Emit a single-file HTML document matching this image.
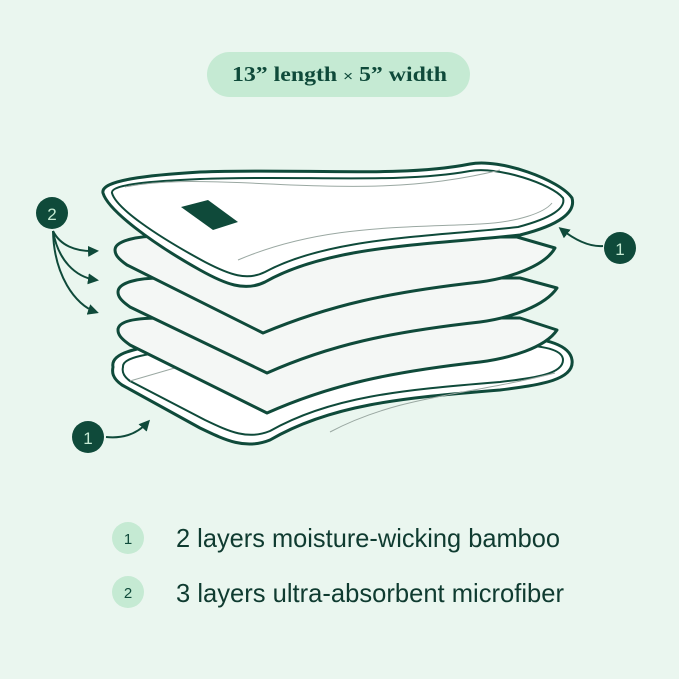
<!DOCTYPE html>
<html><head><meta charset="utf-8"><style>
html,body{margin:0;padding:0;background:#eaf6ef;}
svg{display:block}
</style></head><body>
<svg width="679" height="679" viewBox="0 0 679 679" xmlns="http://www.w3.org/2000/svg">
<defs>
<marker id="ah" markerWidth="11" markerHeight="11" refX="8" refY="5.5" orient="auto" markerUnits="userSpaceOnUse"><path d="M0,0 L11,5.5 L0,11 Z" fill="#0f4a3a"/></marker>
</defs>
<rect width="679" height="679" fill="#eaf6ef"/>
<rect x="207" y="52" width="263" height="45" rx="22.5" fill="#c5ead3"/>
<text x="232" y="81" textLength="215" lengthAdjust="spacingAndGlyphs" font-family="Liberation Serif, serif" font-size="21" font-weight="bold" fill="#0f4a3a">13” length  <tspan font-family="Liberation Sans, sans-serif" font-weight="normal" font-size="15">×</tspan>  5” width</text>

<g stroke="#0f4a3a" stroke-width="3" stroke-linejoin="round">
<path d="M113,367 C110,352 140,345 200,343 L520,338 C545,338 570,345 572,360 C575,380 540,385 500,390 C400,398 330,405 270,440 C245,450 225,440 200,428 L122,385 C112,378 112,372 113,367 Z" fill="#fff"/>
<path d="M123,367 C122,358 145,352 200,350 L520,345 C545,346 563,350 563,360 C563,374 535,378 500,382 C400,390 330,397 270,431 C248,440 230,432 205,420 L130,381 C123,376 122,371 123,367 Z" fill="#fff" stroke-width="2"/>
<path d="M130,381 L185,365 M330,432 C400,395 470,395 555,373" fill="none" stroke="#9aa8a2" stroke-width="1"/>
<path d="M118,330 C118,320 140,318 160,318 L520,318 L557,330 C545,348 510,358 480,362 C390,372 330,385 267,413 L130,345 C120,338 118,334 118,330 Z" fill="#f4f7f5"/>
<path d="M118,292 C118,282 140,278 160,278 L520,278 L557,288 C545,306 510,318 480,322 C390,332 330,345 267,373 L130,307 C120,300 118,296 118,292 Z" fill="#f4f7f5"/>
<path d="M115,250 C115,240 140,236 160,236 L517,237 L555,248 C545,266 510,278 480,282 C390,292 330,305 263,333 L127,265 C117,258 115,254 115,250 Z" fill="#f4f7f5"/>
<path d="M103,193 C100,180 150,175 200,172 C300,168 400,178 470,164 C500,158 560,180 572,198 C576,212 560,225 520,235 C430,245 330,245 265,282 C245,292 225,284 200,270 C150,242 108,210 103,193 Z" fill="#fff"/>
<path d="M112,193 C110,184 155,181 200,179 C300,175 400,184 470,171 C498,166 552,184 563,198 C566,208 552,218 518,227 C430,237 330,237 265,272 C247,281 230,275 205,262 C155,235 116,208 112,193 Z" fill="#fff" stroke-width="2"/>
<path d="M125,187 C160,180 200,181 250,183 C350,188 420,190 500,170 M238,260 C320,225 400,228 480,224 C520,222 545,212 552,203" fill="none" stroke="#9aa8a2" stroke-width="1"/>
<path d="M181,207 L208,200 L238,222 L213,230 Z" fill="#0f4a3a" stroke="none"/>
</g>

<g stroke="#0f4a3a" stroke-width="2" fill="none">
<path d="M53,231 C60,245 75,252 96,251" marker-end="url(#ah)"/>
<path d="M53,231 C58,260 75,277 96,280" marker-end="url(#ah)"/>
<path d="M53,231 C54,275 75,305 96,312" marker-end="url(#ah)"/>
<path d="M603,246 C590,247 575,240 561,229" marker-end="url(#ah)"/>
<path d="M106,437 C125,439 138,433 148,422" marker-end="url(#ah)"/>
</g>
<circle cx="52" cy="213" r="16" fill="#0f4a3a"/>
<text x="52" y="220" text-anchor="middle" font-family="Liberation Sans, sans-serif" font-size="17" fill="#c5ead3">2</text>
<circle cx="620" cy="248" r="16" fill="#0f4a3a"/>
<text x="620" y="255" text-anchor="middle" font-family="Liberation Sans, sans-serif" font-size="17" fill="#c5ead3">1</text>
<circle cx="88" cy="437" r="16" fill="#0f4a3a"/>
<text x="88" y="444" text-anchor="middle" font-family="Liberation Sans, sans-serif" font-size="17" fill="#c5ead3">1</text>

<circle cx="128" cy="538" r="16" fill="#c5ead3"/>
<text x="128" y="544" text-anchor="middle" font-family="Liberation Sans, sans-serif" font-size="15" fill="#0f4a3a">1</text>
<circle cx="128" cy="592" r="16" fill="#c5ead3"/>
<text x="128" y="598" text-anchor="middle" font-family="Liberation Sans, sans-serif" font-size="15" fill="#0f4a3a">2</text>
<text x="176" y="547" textLength="384" lengthAdjust="spacingAndGlyphs" font-family="Liberation Sans, sans-serif" font-size="26" fill="#0f3b30">2 layers moisture-wicking bamboo</text>
<text x="176" y="602" textLength="388" lengthAdjust="spacingAndGlyphs" font-family="Liberation Sans, sans-serif" font-size="26" fill="#0f3b30">3 layers ultra-absorbent microfiber</text>
</svg>
</body></html>
